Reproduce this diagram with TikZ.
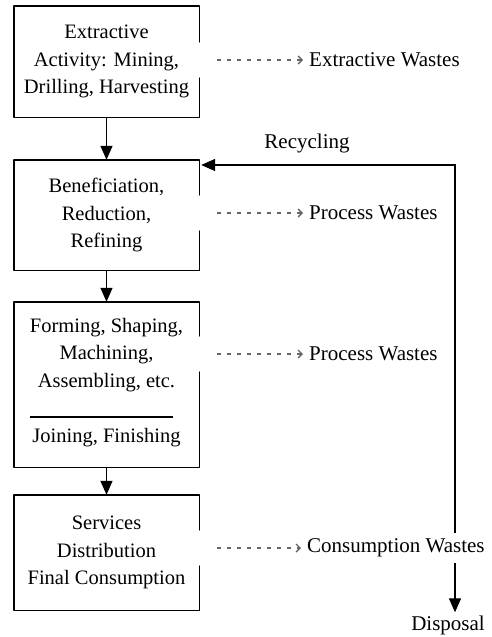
\documentclass[tikz,border=0pt]{standalone}
\usepackage{fontspec}
\setmainfont{Liberation Serif}
\usetikzlibrary{arrows.meta,calc}

\tikzset{
  stage/.style={minimum width=185pt, inner sep=0pt, align=center,
    font=\fontsize{20.5}{27.5}\selectfont},
  boxline/.style={line width=1.4pt, line cap=round, line join=round},
  label/.style={inner sep=3pt, font=\fontsize{21}{24}\selectfont},
  flow/.style={line width=1.4pt, -{Triangle[length=14pt,width=12pt]}},
  waste/.style={line width=1.2pt, black!60, dash pattern=on 4pt off 6pt,
    shorten <=18pt, shorten >=3pt,
    -{Straight Barb[length=4pt,width=8pt,line width=1.4pt]}},
}

% draws a stage box whose right side is open beside its waste label
\newcommand{\stagebox}[2]{%
  \draw[boxline] ($(#1.east |- #2.west)+(0,-18)$) -- (#1.north east)
    -- (#1.north west) -- (#1.south west) -- (#1.south east)
    -- ($(#1.east |- #2.west)+(0,18)$);}

\begin{document}
\begin{tikzpicture}[x=1pt,y=-1pt]
  \useasboundingbox (0,0) rectangle (492,637);

  % stages of the material cycle
  \node[stage, minimum height=111pt] (b1) at (106.5,61.5)
    {Extractive\\Activity: Mining,\\Drilling, Harvesting};
  \node[stage, minimum height=110pt] (b2) at (106.5,215)
    {Beneficiation,\\Reduction,\\Refining};
  \node[stage, minimum height=165pt] (b3) at (106.5,384.5) {};
  \node[stage] (b3a) at (106.5,355) {Forming, Shaping,\\Machining,\\Assembling, etc.};
  \node[stage] (b3b) at (106.5,438) {Joining, Finishing};
  \coordinate (d1) at (30,417);
  \coordinate (d2) at (173,417);
  \node[stage, minimum height=115pt] (b4) at (106.5,552.5)
    {Services\\Distribution\\Final Consumption};

  % wastes leaving each stage
  \node[label, anchor=west] (w1) at (306,60) {Extractive Wastes};
  \node[label, anchor=west] (w2) at (306,213) {Process Wastes};
  \node[label, anchor=west] (w3) at (306,354) {Process Wastes};
  \node[label, anchor=west] (w4) at (304,548) {Consumption Wastes};

  \node[label] (rec) at (307,143) {Recycling};
  \node[label] (disp) at (448,625) {Disposal};

  \stagebox{b1}{w1}
  \stagebox{b2}{w2}
  \stagebox{b3}{w3}
  \stagebox{b4}{w4}
  \draw[line width=1.1pt] (d1) -- (d2);

  % main flow
  \draw[flow] (b1) -- (b2);
  \draw[flow] (b2) -- (b3);
  \draw[flow] (b3) -- (b4);

  \draw[waste] (b1.east |- w1.west) -- (w1.west);
  \draw[waste] (b2.east |- w2.west) -- (w2.west);
  \draw[waste] (b3.east |- w3.west) -- (w3.west);
  \draw[waste] (b4.east |- w4.west) -- (w4.west);

  % recycling loop and disposal
  \coordinate (loopx) at (455,0);
  \coordinate (recy) at (0,165);
  \draw[flow, shorten >=2pt] ([yshift=3pt]loopx |- w4.north) -- (loopx |- recy)
    -- (b2.east |- recy);
  \draw[flow] ([yshift=-3pt]loopx |- w4.south) -- (loopx |- disp.north);
\end{tikzpicture}
\end{document}
